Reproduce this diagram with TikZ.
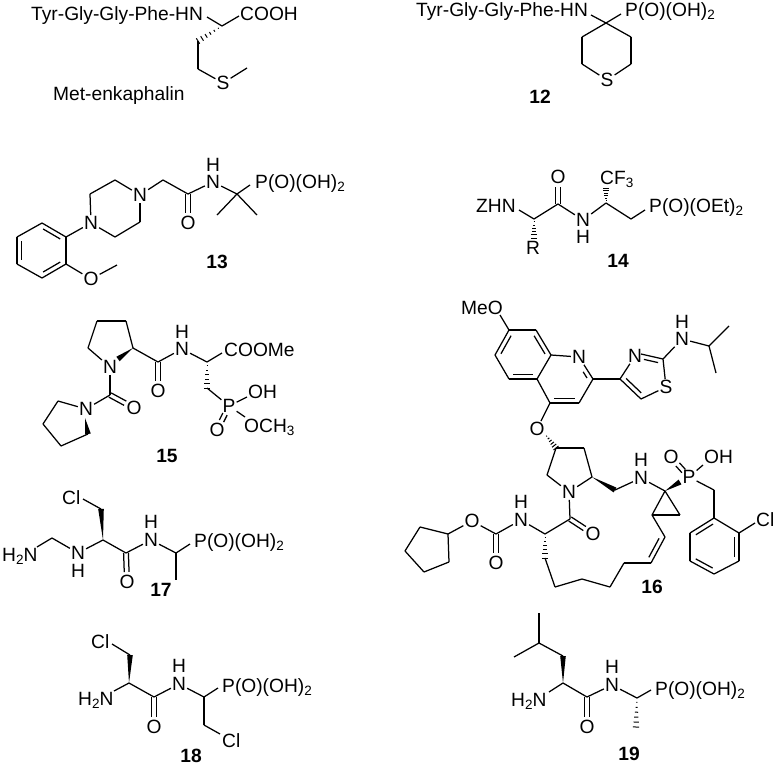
\documentclass[tikz,border=0pt]{standalone}
\usepackage{fontspec}
\setmainfont{Liberation Sans}
\usetikzlibrary{calc}
\newcommand{\atomfont}{\fontsize{19.2}{22}\selectfont}
\newcommand{\subs}[1]{\raisebox{-3.5pt}{\fontsize{13.5}{14}\selectfont #1}}
% a = narrow end, b = wide end
\newcommand{\wedgebond}[2]{\fill ($(#1)$) -- ($(#2)!2.8pt!90:(#1)$) -- ($(#2)!2.8pt!-90:(#1)$) -- cycle;}
\newcommand{\hashbond}[2]{\foreach \t in {0.15,0.32,0.49,0.66,0.83,1}{
    \coordinate (hp) at ($(#1)!\t!(#2)$);
    \pgfmathsetmacro{\w}{\t*3.2}
    \draw[hash] ($(hp)!\w pt!90:(#1)$) -- ($(hp)!\w pt!-90:(#1)$);}}
% two lines either side of a--b, #3 cut off at a, 10pt cut off at b
\newcommand{\eqbond}[3]{
    \draw[bond,shorten <=#3,shorten >=10pt] ($(#1)!2.4pt!90:(#2)$) -- ($(#2)!2.4pt!-90:(#1)$);
    \draw[bond,shorten <=#3,shorten >=10pt] ($(#1)!2.4pt!-90:(#2)$) -- ($(#2)!2.4pt!90:(#1)$);}
\newcommand{\innerbond}[2]{\draw[bond,shorten <=4pt,shorten >=4pt] ($(#1)!4.6pt!90:(#2)$) -- ($(#2)!4.6pt!-90:(#1)$);}
\tikzset{
    bond/.style={line width=1.25pt},
    hash/.style={line width=1pt},
    atom/.style={inner sep=1pt,font=\atomfont},
    txt/.style={inner sep=0pt,anchor=base west,font=\atomfont},
    num/.style={inner sep=0pt,font=\atomfont\bfseries}
}
\begin{document}
\begin{tikzpicture}[x=1pt,y=-1pt]
    \useasboundingbox (0,0) rectangle (776,766);

    % Met-enkaphalin
    \node[txt] (metpep) at (31,20) {Tyr-Gly-Gly-Phe-HN};
    \node[txt] (metacid) at (240,20) {COOH};
    \node[txt] (metname) at (53,100.5) {Met-enkaphalin};
    \node[atom] (mets) at (223,83) {S};
    \foreach \n/\x/\y in {met1/207/17,met2/222/26,met3/239/16,met4/198/41,met5/198/69,met6/247/68}
        \coordinate (\n) at (\x,\y);
    \foreach \a/\b in {met1/met2,met2/met3,met4/met5,met5/mets,mets/met6}
        \draw[bond] (\a) -- (\b);
    \hashbond{met2}{met4}

    % 12
    \node[txt] (twepep) at (416,16) {Tyr-Gly-Gly-Phe-HN};
    \node[txt] (twep) at (625,16) {P(O)(OH)\subs{2}};
    \node[atom] (twes) at (607,80) {S};
    \node[num] (twenum) at (540,97) {12};
    \foreach \n/\x/\y in {twe1/591/15,twe2/606/23,twe3/621/14,twe4/631/37,twe5/631/64,twe6/582/64,twe7/582/37}
        \coordinate (\n) at (\x,\y);
    \foreach \a/\b in {twe1/twe2,twe2/twe3,twe2/twe4,twe4/twe5,twe5/twes,twes/twe6,twe6/twe7,twe7/twe2}
        \draw[bond] (\a) -- (\b);

    % 13
    \node[atom] (thin1) at (140,195) {N};
    \node[atom] (thin2) at (91,223) {N};
    \node[atom] (thin3) at (213,182) {N};
    \node[atom] (thih) at (213,165) {H};
    \node[atom] (thio1) at (188,223) {O};
    \node[atom] (thio2) at (91,279) {O};
    \node[txt] (thip) at (255,188) {P(O)(OH)\subs{2}};
    \node[num] (thinum) at (217,262) {13};
    \foreach \n/\x/\y in {thi1/237/194,thi2/250/185,thi3/217/215,thi4/257/215,thi5/188/194,thi6/163/180,
        thi7/115/180,thi8/90/194,thi9/115/237,thi10/140/222,thi11/66/237,thi12/42/223,thi13/17/237,
        thi14/17/264,thi15/42/278,thi16/66/264,thi17/117/265}
        \coordinate (\n) at (\x,\y);
    \foreach \a/\b in {thin3/thi1,thi1/thi2,thi1/thi3,thi1/thi4,thi5/thin3,thi6/thi5,thin1/thi6,thin1/thi7,
        thi7/thi8,thi8/thin2,thin2/thi9,thi9/thi10,thi10/thin1,thin2/thi11,thi11/thi12,thi12/thi13,thi13/thi14,
        thi14/thi15,thi15/thi16,thi16/thi11,thi16/thio2,thio2/thi17}
        \draw[bond] (\a) -- (\b);
    \eqbond{thi5}{thio1}{0pt}
    \innerbond{thi13}{thi14}
    \innerbond{thi15}{thi16}
    \innerbond{thi11}{thi12}

    % 14
    \node[txt] (fouz) at (476,212) {ZHN};
    \node[txt] (foucf) at (600,184) {CF\subs{3}};
    \node[txt] (foup) at (649,212) {P(O)(OEt)\subs{2}};
    \node[atom] (foun) at (583,220) {N};
    \node[atom] (fouh) at (583,237) {H};
    \node[atom] (fouo) at (558,177) {O};
    \node[atom] (four) at (533,248) {R};
    \node[num] (founum) at (618,261) {14};
    \foreach \n/\x/\y in {fou1/519/210,fou2/534/219,fou3/558/204,fou4/606/203,fou5/631/219,fou6/645/210,
        fou7/606/188,fou8/534/238}
        \coordinate (\n) at (\x,\y);
    \foreach \a/\b in {fou1/fou2,fou2/fou3,fou3/foun,foun/fou4,fou4/fou5,fou5/fou6}
        \draw[bond] (\a) -- (\b);
    \eqbond{fou3}{fouo}{0pt}
    \hashbond{fou4}{fou7}
    \hashbond{fou2}{fou8}

    % 15
    \node[atom] (fifn1) at (110,367) {N};
    \node[atom] (fifn2) at (86,409) {N};
    \node[atom] (fifn3) at (182,349) {N};
    \node[atom] (fifh) at (182,332) {H};
    \node[atom] (fifo1) at (158,391) {O};
    \node[atom] (fifo2) at (134,408) {O};
    \node[atom] (fifo3) at (217,430) {O};
    \node[atom] (fifp) at (229,406) {P};
    \node[txt] (fifme) at (224,356) {COOMe};
    \node[txt] (fifoh) at (248,398) {OH};
    \node[txt] (fifom) at (244,432) {OCH\subs{3}};
    \node[num] (fifnum) at (167,456) {15};
    \foreach \n/\x/\y in {fif1/88/348,fif2/97/321,fif3/126/321,fif4/133/348,fif5/118/359,fif6/158/362,
        fif7/207/362,fif8/222/353,fif9/207/388,fif10/110/395,fif11/58/401,fif12/43/424,fif13/61/446,
        fif14/88/434,fif15/85/418,fif16/247/397,fif17/245/417}
        \coordinate (\n) at (\x,\y);
    \foreach \a/\b in {fifn1/fif1,fif1/fif2,fif2/fif3,fif3/fif4,fif4/fif6,fif6/fifn3,fifn3/fif7,fif7/fif8,
        fif9/fifp,fifp/fif16,fifp/fif17,fifn1/fif10,fif10/fifn2,fifn2/fif11,fif11/fif12,fif12/fif13,fif13/fif14}
        \draw[bond] (\a) -- (\b);
    \wedgebond{fif4}{fif5}
    \wedgebond{fif15}{fif14}
    \hashbond{fif7}{fif9}
    \eqbond{fif6}{fifo1}{0pt}
    \eqbond{fif10}{fifo2}{0pt}
    \eqbond{fifp}{fifo3}{9pt}

    % 16
    \node[txt] (sixmeo) at (461,314) {MeO};
    \node[atom] (sixn1) at (579,357) {N};
    \node[atom] (sixn2) at (635,356) {N};
    \node[atom] (sixn3) at (682,339) {N};
    \node[atom] (sixh1) at (682,322) {H};
    \node[atom] (sixs) at (666,387) {S};
    \node[atom] (sixo1) at (537,429) {O};
    \node[atom] (sixn4) at (569,492) {N};
    \node[atom] (sixn5) at (641,478) {N};
    \node[atom] (sixh2) at (641,460) {H};
    \node[atom] (sixp) at (689,477) {P};
    \node[atom] (sixo2) at (671,457) {O};
    \node[txt] (sixoh) at (704,463) {OH};
    \node[txt] (sixcl) at (756,526) {Cl};
    \node[atom] (sixo3) at (593,534) {O};
    \node[atom] (sixn6) at (521,520) {N};
    \node[atom] (sixh3) at (521,502) {H};
    \node[atom] (sixo4) at (496,563) {O};
    \node[atom] (sixo5) at (472,521) {O};
    \node[num] (sixnum) at (652,587) {16};
    \foreach \n/\x/\y in {six1/500/315,six2/509/330,six3/536/330,six4/551/355,six5/537/379,six6/509/379,
        six7/495/355,six8/593/379,six9/579/403,six10/550/403,six11/585/366,six12/620/379,six13/641/399,
        six14/663/359,six15/641/354,six16/709/346,six17/729/326,six18/716/373,six19/556/448,six20/584/448,
        six21/592/477,six22/547/475,six23/545/434,six24/615/490,six25/665/491,six26/680/482,six27/652/515,
        six28/680/515,six29/665/537,six30/651/563,six31/624/563,six32/610/587,six33/582/579,six34/555/587,
        six35/545/558,six36/545/534,six37/570/519,six38/496/534,six39/448/534,six40/420/527,six41/405/551,
        six42/424/572,six43/449/562,six44/714/490,six45/714/518,six46/690/533,six47/690/561,six48/714/574,
        six49/739/561,six50/739/533,six51/755/523,six52/703/465}
        \coordinate (\n) at (\x,\y);
    \foreach \a/\b in {six1/six2,six2/six3,six3/six4,six4/six5,six5/six6,six6/six7,six7/six2,six4/sixn1,
        sixn1/six8,six8/six9,six9/six10,six10/six5,six10/sixo1,six8/six12,six12/six13,six13/sixs,sixs/six14,
        six14/six15,six12/sixn2,six14/sixn3,sixn3/six16,six16/six17,six16/six18,six19/six20,six20/six21,
        six21/sixn4,sixn4/six22,six22/six19,six24/sixn5,sixn5/six25,six25/six27,six27/six28,six28/six25,
        six27/six29,six29/six30,six30/six31,six31/six32,six32/six33,six33/six34,six34/six35,six36/six37,
        six37/sixn4,six36/sixn6,sixn6/six38,six38/sixo5,sixo5/six39,six39/six40,six40/six41,six41/six42,
        six42/six43,six43/six39,sixp/six52,sixp/six44,six44/six45,six45/six46,six46/six47,six47/six48,
        six48/six49,six49/six50,six50/six45,six50/six51}
        \draw[bond] (\a) -- (\b);
    \innerbond{six2}{six7}
    \innerbond{six6}{six5}
    \innerbond{six4}{six3}
    \innerbond{six10}{six9}
    \innerbond{six8}{six11}
    \innerbond{six12}{six13}
    \innerbond{six14}{six15}
    \innerbond{six30}{six29}
    \innerbond{six45}{six46}
    \innerbond{six47}{six48}
    \innerbond{six49}{six50}
    \eqbond{six37}{sixo3}{0pt}
    \eqbond{six38}{sixo4}{0pt}
    \eqbond{sixp}{sixo2}{8pt}
    \hashbond{six23}{six19}
    \hashbond{six36}{six35}
    \wedgebond{six21}{six24}
    \wedgebond{six25}{six26}

    % 17
    \node[txt] (sevcl) at (62,504) {Cl};
    \node[txt] (sevnh) at (2,561) {H\subs{2}N};
    \node[txt] (sevp) at (194,547) {P(O)(OH)\subs{2}};
    \node[atom] (sevn1) at (78,553) {N};
    \node[atom] (sevh1) at (78,571) {H};
    \node[atom] (sevn2) at (151,540) {N};
    \node[atom] (sevh2) at (151,522) {H};
    \node[atom] (sevo) at (127,582) {O};
    \node[num] (sevnum) at (161,590) {17};
    \foreach \n/\x/\y in {sev1/83/499,sev2/101/509,sev3/103/540,sev4/52/538,sev5/37/547,sev6/126/553,
        sev7/176/553,sev8/190/544,sev9/176/580}
        \coordinate (\n) at (\x,\y);
    \foreach \a/\b in {sev1/sev2,sev3/sevn1,sevn1/sev4,sev4/sev5,sev3/sev6,sev6/sevn2,sevn2/sev7,sev7/sev8,sev7/sev9}
        \draw[bond] (\a) -- (\b);
    \wedgebond{sev3}{sev2}
    \eqbond{sev6}{sevo}{0pt}

    % 18
    \node[txt] (eigcl1) at (91,648) {Cl};
    \node[txt] (eignh) at (78,705) {H\subs{2}N};
    \node[txt] (eigp) at (222,692) {P(O)(OH)\subs{2}};
    \node[txt] (eigcl2) at (222,747) {Cl};
    \node[atom] (eign) at (179,684) {N};
    \node[atom] (eigh) at (179,666) {H};
    \node[atom] (eigo) at (154,727) {O};
    \node[num] (eignum) at (191,756) {18};
    \foreach \n/\x/\y in {eig1/112/644,eig2/130/655,eig3/129/683,eig4/114/691,eig5/154/697,eig6/204/697,
        eig7/218/688,eig8/204/725,eig9/220/734}
        \coordinate (\n) at (\x,\y);
    \foreach \a/\b in {eig1/eig2,eig3/eig4,eig3/eig5,eig5/eign,eign/eig6,eig6/eig7,eig6/eig8,eig8/eig9}
        \draw[bond] (\a) -- (\b);
    \wedgebond{eig3}{eig2}
    \eqbond{eig5}{eigo}{0pt}

    % 19
    \node[txt] (ninnh) at (511,706) {H\subs{2}N};
    \node[txt] (ninp) at (655,695) {P(O)(OH)\subs{2}};
    \node[atom] (ninn) at (612,685) {N};
    \node[atom] (ninh) at (612,667) {H};
    \node[atom] (nino) at (587,727) {O};
    \node[num] (ninnum) at (629,754) {19};
    \foreach \n/\x/\y in {nin1/539/613,nin2/539/643,nin3/514/657,nin4/563/656,nin5/563/683,nin6/549/692,
        nin7/587/697,nin8/637/698,nin9/651/690,nin10/636/727}
        \coordinate (\n) at (\x,\y);
    \foreach \a/\b in {nin1/nin2,nin2/nin3,nin2/nin4,nin5/nin6,nin5/nin7,nin7/ninn,ninn/nin8,nin8/nin9}
        \draw[bond] (\a) -- (\b);
    \wedgebond{nin5}{nin4}
    \hashbond{nin8}{nin10}
    \eqbond{nin7}{nino}{0pt}
\end{tikzpicture}
\end{document}
